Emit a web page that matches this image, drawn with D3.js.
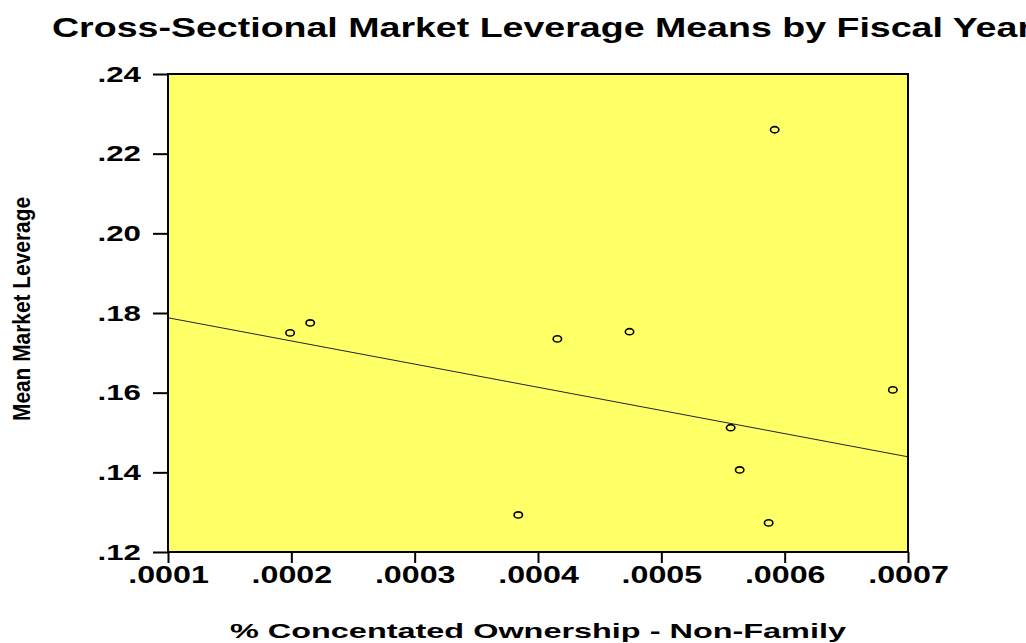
<!DOCTYPE html>
<html>
<head>
<meta charset="utf-8">
<script src="https://cdn.jsdelivr.net/npm/d3@7/dist/d3.min.js"></script>
<style>
  html, body { margin: 0; padding: 0; background: #ffffff; }
  svg { display: block; }
  text { font-family: "Liberation Sans", Arial, sans-serif; font-weight: bold; fill: #000; }
</style>
</head>
<body>
<svg id="chart" width="1026" height="643"></svg>
<script>
// Fiscal-year cross-sectional means
const ownership = [0.000199, 0.0002153, 0.000384, 0.0004157, 0.0004742, 0.0005562, 0.0005635, 0.000587, 0.0005919, 0.0006877];
const leverage  = [0.1750, 0.1775, 0.1293, 0.1735, 0.1753, 0.1512, 0.1406, 0.1273, 0.2260, 0.1607];

// Fitted line endpoints
const fitX = [0.0001, 0.0007];
const fitY = [0.1788, 0.1439];

// Axis ticks
const xTicks = [0.0001, 0.0002, 0.0003, 0.0004, 0.0005, 0.0006, 0.0007];
const yTicks = [0.12, 0.14, 0.16, 0.18, 0.20, 0.22, 0.24];

const svg = d3.select("#chart");
const plotL = 168, plotR = 908, plotT = 74, plotB = 552;

const x = d3.scaleLinear().domain([0.0001, 0.0007]).range([plotL, plotR]);
const y = d3.scaleLinear().domain([0.12, 0.24]).range([plotB, plotT]);

const fmtX = d => d.toFixed(4).replace(/^0/, "");
const fmtY = d => d.toFixed(2).replace(/^0/, "");

// stretch text horizontally to a wider face
function stretch(sel, factor) {
  sel.each(function () {
    const w = this.getComputedTextLength();
    d3.select(this).attr("textLength", w * factor).attr("lengthAdjust", "spacingAndGlyphs");
  });
}

// Plot background
svg.append("rect")
  .attr("x", plotL).attr("y", plotT)
  .attr("width", plotR - plotL).attr("height", plotB - plotT)
  .attr("fill", "#ffff66");

// Y axis
const gy = svg.append("g")
  .attr("transform", `translate(${plotL},0)`)
  .call(d3.axisLeft(y).tickValues(yTicks).tickFormat(fmtY).tickSize(15).tickSizeOuter(0).tickPadding(12));
gy.select(".domain").remove();
gy.selectAll(".tick line").attr("stroke", "#000").attr("stroke-width", 2);
gy.selectAll(".tick text")
  .attr("font-size", 22).attr("dy", "0.32em")
  .attr("font-family", "'Liberation Sans', Arial, sans-serif").attr("font-weight", "bold")
  .call(stretch, 1.42);

// X axis
const gx = svg.append("g")
  .attr("transform", `translate(0,${plotB})`)
  .call(d3.axisBottom(x).tickValues(xTicks).tickFormat(fmtX).tickSize(11).tickSizeOuter(0).tickPadding(4));
gx.select(".domain").remove();
gx.selectAll(".tick line").attr("stroke", "#000").attr("stroke-width", 2);
gx.selectAll(".tick text")
  .attr("font-size", 23).attr("dy", "0.71em")
  .attr("font-family", "'Liberation Sans', Arial, sans-serif").attr("font-weight", "bold")
  .call(stretch, 1.4);

// Fitted line
svg.append("line")
  .attr("x1", x(fitX[0])).attr("y1", y(fitY[0]))
  .attr("x2", x(fitX[1])).attr("y2", y(fitY[1]))
  .attr("stroke", "#222").attr("stroke-width", 1);

// Scatter markers
svg.append("g").selectAll("ellipse")
  .data(ownership.map((v, i) => [v, leverage[i]]))
  .join("ellipse")
  .attr("cx", d => x(d[0])).attr("cy", d => y(d[1]))
  .attr("rx", 4.2).attr("ry", 3.1)
  .attr("fill", "none").attr("stroke", "#000").attr("stroke-width", 1.6);

// Frame
svg.append("rect")
  .attr("x", plotL).attr("y", plotT)
  .attr("width", plotR - plotL).attr("height", plotB - plotT)
  .attr("fill", "none").attr("stroke", "#000").attr("stroke-width", 2);

// Title
svg.append("text")
  .attr("x", 52).attr("y", 37)
  .attr("font-size", 27)
  .attr("textLength", 980).attr("lengthAdjust", "spacingAndGlyphs")
  .text("Cross-Sectional Market Leverage Means by Fiscal Year");

// X axis title
svg.append("text")
  .attr("x", 230).attr("y", 638)
  .attr("font-size", 21)
  .attr("textLength", 616).attr("lengthAdjust", "spacingAndGlyphs")
  .text("% Concentated Ownership - Non-Family");

// Y axis title (condensed)
svg.append("text")
  .attr("transform", "translate(30,421) rotate(-90)")
  .attr("x", 0).attr("y", 0)
  .attr("font-size", 24)
  .attr("textLength", 224).attr("lengthAdjust", "spacingAndGlyphs")
  .text("Mean Market Leverage");
</script>
</body>
</html>
